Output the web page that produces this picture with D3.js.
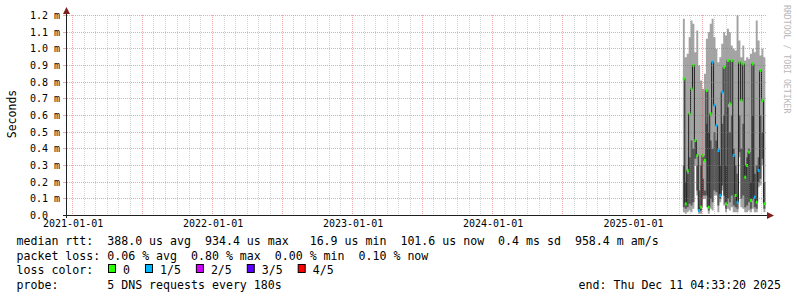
<!DOCTYPE html>
<html lang="en">
  <head>
    <meta charset="UTF-8" />
    <title>DNS latency - 5 years</title>
    <style>
      body { margin: 0; background: #fff; }
      svg text { font-family: "DejaVu Sans Mono", monospace; fill: #000; }
      .grid { stroke: rgba(143, 143, 143, 0.38); stroke-dasharray: 1, 1; }
      .mgrid { stroke: rgba(222, 79, 79, 0.5); stroke-dasharray: 1, 1; }
    </style>
  </head>
  <body>
    <div id="chart"></div>
    <script src="https://cdn.jsdelivr.net/npm/d3@7/dist/d3.min.js"></script>
    <script>
      // one column every 5 days, starting 2025-05-11 (values in ms)
      const firstDay = new Date(2025, 4, 11);
      const stepDays = 5;

      const pingMax = [1.18, 0.95, 0.97, 1.07, 1.17, 1.15, 0.98, 1.11, 0.9, 0.81, 0.76,
        0.85, 1.06, 1.1, 1.15, 1.18, 1.07, 1.0, 0.92, 0.95, 1.03, 1.1, 1.08, 1.12, 1.1,
        1.02, 1.0, 0.99, 1.2, 1.05, 0.95, 1.02, 0.93, 0.95, 0.94, 0.97, 1.0, 0.98, 1.17,
        1.05, 0.96, 1.0, 0.95];
      const pingHigh = [0.3, 0.2, 0.25, 0.35, 0.45, 0.4, 0.45, 0.3, 0.15, 0.3, 0.22,
        0.15, 0.55, 0.5, 0.45, 0.4, 0.5, 0.45, 0.4, 0.3, 0.55, 0.6, 0.3, 0.65, 0.5,
        0.6, 0.4, 0.3, 0.25, 0.6, 0.4, 0.55, 0.3, 0.35, 0.4, 0.2, 0.6, 0.25, 0.3,
        0.35, 0.6, 0.5, 0.2];
      const medianRtt = [0.82, 0.07, 0.27, 0.61, 0.76, 0.9, 0.45, 0.36, 0.03, 0.05, 0.36,
        0.33, 0.75, 0.05, 0.61, 0.92, 0.66, 0.54, 0.39, 0.12, 0.74, 0.89, 0.07, 0.93, 0.67,
        0.93, 0.36, 0.12, 0.08, 0.92, 0.69, 0.91, 0.23, 0.3, 0.38, 0.09, 0.91, 0.11, 0.08,
        0.27, 0.87, 0.69, 0.07];
      const pingLow = [0.05, 0.04, 0.05, 0.07, 0.06, 0.08, 0.34, 0.15, 0.02, 0.03, 0.12,
        0.12, 0.12, 0.03, 0.1, 0.08, 0.15, 0.14, 0.06, 0.1, 0.18, 0.12, 0.04, 0.1, 0.08,
        0.12, 0.06, 0.05, 0.04, 0.38, 0.1, 0.12, 0.05, 0.06, 0.08, 0.04, 0.1, 0.05, 0.04,
        0.2, 0.22, 0.34, 0.04];
      const pingMin = [0.02, 0.01, 0.02, 0.03, 0.02, 0.04, 0.3, 0.12, 0.01, 0.01, 0.1,
        0.1, 0.05, 0.01, 0.04, 0.03, 0.12, 0.12, 0.02, 0.08, 0.15, 0.06, 0.02, 0.04, 0.03,
        0.05, 0.02, 0.02, 0.02, 0.35, 0.05, 0.04, 0.02, 0.02, 0.03, 0.02, 0.04, 0.02, 0.02,
        0.17, 0.18, 0.3, 0.02];
      const lossLevel = [0, 0, 0, 0, 0, 0, 0, 0, 1, 0, 0, 0, 0, 0, 0, 1, 1, 1, 1, 1, 1, 0,
        0, 0, 0, 0, 1, 0, 1, 0, 0, 0, 0, 0, 0, 0, 0, 1, 0, 1, 0, 0, 0];

      const yTicks = [0, 0.1, 0.2, 0.3, 0.4, 0.5, 0.6, 0.7, 0.8, 0.9, 1.0, 1.1, 1.2];
      const lossLabels = ["0", "1/5", "2/5", "3/5", "4/5"];
      const lossColors = ["#26ff00", "#00b8ff", "#d400ff", "#5a00ff", "#ff0000"];
      const legendLines = [
        "median rtt:  388.0 us avg  934.4 us max   16.9 us min  101.6 us now  0.4 ms sd  958.4 m am/s",
        "packet loss: 0.06 % avg  0.80 % max  0.00 % min  0.10 % now",
        "loss color:",
        "probe:       5 DNS requests every 180s",
      ];
      const endLabel = "end: Thu Dec 11 04:33:20 2025";

      const width = 797,
        height = 297;

      const svg = d3
        .select("#chart")
        .append("svg")
        .attr("width", width)
        .attr("height", height);

      const x = d3
        .scaleTime()
        .domain([new Date(2020, 11, 16), new Date(2025, 11, 15)])
        .range([66.5, 766.5]);
      const y = d3.scaleLinear().domain([0, 1.2]).range([215.5, 15.5]);

      const cols = medianRtt.map(function (m, i) {
        return {
          t: d3.timeDay.offset(firstDay, i * stepDays),
          t1: d3.timeDay.offset(firstDay, (i + 1) * stepDays),
          min: pingMin[i],
          low: pingLow[i],
          med: m,
          high: pingHigh[i],
          max: pingMax[i],
          loss: lossLevel[i],
        };
      });
      // repeat last value at the end time so step areas close the last column
      const last = cols[cols.length - 1];
      const steps = cols.concat([Object.assign({}, last, { t: last.t1 })]);

      // smoke
      const outer = d3
        .area()
        .curve(d3.curveStepAfter)
        .x((d) => x(d.t))
        .y0((d) => y(d.min))
        .y1((d) => y(d.max));
      const inner = d3
        .area()
        .curve(d3.curveStepAfter)
        .x((d) => x(d.t))
        .y0((d) => y(d.low))
        .y1((d) => y(d.high));
      svg.append("path").attr("d", outer(steps)).attr("fill", "#a4a4a4");
      svg.append("path").attr("d", inner(steps)).attr("fill", "#585858");

      // median line
      const medLine = d3
        .line()
        .curve(d3.curveStepAfter)
        .x((d) => x(d.t))
        .y((d) => y(d.med));
      svg
        .append("path")
        .attr("d", medLine(steps))
        .attr("fill", "none")
        .attr("stroke", "#202020")
        .attr("stroke-width", 1);

      // median marks coloured by loss
      svg
        .selectAll(".med")
        .data(cols)
        .enter()
        .append("rect")
        .attr("x", (d) => x(d.t))
        .attr("width", (d) => x(d.t1) - x(d.t))
        .attr("y", (d) => y(d.med) - 1.5)
        .attr("height", 3)
        .attr("fill", (d) => lossColors[d.loss]);

      // grid (rrdtool paints it over the graph)
      const px = (v) => Math.floor(v) + 0.5;
      const months = d3.timeMonth.range(x.domain()[0], x.domain()[1]);
      svg
        .selectAll(".grid")
        .data(months.filter((d) => d.getMonth() % 6 !== 0))
        .enter()
        .append("line")
        .attr("class", "grid")
        .attr("x1", (d) => px(x(d)))
        .attr("x2", (d) => px(x(d)))
        .attr("y1", 15)
        .attr("y2", 215);
      svg
        .selectAll(".mgridv")
        .data(months.filter((d) => d.getMonth() % 6 === 0))
        .enter()
        .append("line")
        .attr("class", "mgrid")
        .attr("x1", (d) => px(x(d)))
        .attr("x2", (d) => px(x(d)))
        .attr("y1", 15)
        .attr("y2", 215);
      svg
        .selectAll(".mgridh")
        .data(yTicks.filter((d) => d > 0))
        .enter()
        .append("line")
        .attr("class", "mgrid")
        .attr("x1", 67)
        .attr("x2", 767)
        .attr("y1", (d) => px(y(d)))
        .attr("y2", (d) => px(y(d)));
      svg
        .selectAll(".ytick")
        .data(yTicks.filter((d) => d > 0))
        .enter()
        .append("line")
        .attr("x1", 63)
        .attr("x2", 66)
        .attr("y1", (d) => px(y(d)))
        .attr("y2", (d) => px(y(d)))
        .attr("stroke", "rgba(222,79,79,0.5)");

      // axes
      svg
        .append("line")
        .attr("x1", 63)
        .attr("x2", 768)
        .attr("y1", 215.5)
        .attr("y2", 215.5)
        .attr("stroke", "#1f1f1f");
      svg
        .append("line")
        .attr("x1", 66.5)
        .attr("x2", 66.5)
        .attr("y1", 218)
        .attr("y2", 12)
        .attr("stroke", "#1f1f1f");
      svg
        .append("path")
        .attr("d", "M767,212L774,215.5L767,219Z")
        .attr("fill", "#801f1f");
      svg
        .append("path")
        .attr("d", "M63,14L66.5,7L70,14Z")
        .attr("fill", "#801f1f");

      // y labels
      svg
        .selectAll(".ylab")
        .data(yTicks)
        .enter()
        .append("text")
        .attr("x", 30)
        .attr("y", (d) => y(d) + 3.6)
        .style("font-size", "10px")
        .text((d) => (d === 0 ? "0.0" : d.toFixed(1) + " m"));

      // x labels, one per year
      svg
        .selectAll(".xlab")
        .data(d3.timeYear.range(new Date(2021, 0, 1), new Date(2025, 11, 31)))
        .enter()
        .append("text")
        .attr("x", (d) => x(d) + 0.5)
        .attr("y", 227)
        .attr("text-anchor", "middle")
        .style("font-size", "10px")
        .text(d3.timeFormat("%Y-%m-%d"));

      svg
        .append("text")
        .attr("transform", "translate(15.5,114) rotate(-90)")
        .attr("text-anchor", "middle")
        .style("font-size", "11.5px")
        .text("Seconds");

      svg
        .append("text")
        .attr("transform", "translate(784,5) rotate(90)")
        .style("font-size", "8.2px")
        .style("fill", "#b8b8b8")
        .text("RRDTOOL / TOBI OETIKER");

      // legend
      const rowY = [245, 259.5, 274, 288.5];
      legendLines.forEach(function (s, i) {
        svg
          .append("text")
          .attr("x", 16.5)
          .attr("y", rowY[i])
          .attr("xml:space", "preserve")
          .style("white-space", "pre")
          .style("font-size", "11.6px")
          .text(s);
      });
      svg
        .append("text")
        .attr("x", 781)
        .attr("y", rowY[3])
        .attr("text-anchor", "end")
        .style("font-size", "11.6px")
        .text(endLabel);

      let cursor = 108.5;
      lossLabels.forEach(function (lab, i) {
        svg
          .append("rect")
          .attr("x", cursor)
          .attr("y", 264.5)
          .attr("width", 7)
          .attr("height", 8)
          .attr("fill", lossColors[i])
          .attr("stroke", "#000");
        svg
          .append("text")
          .attr("x", cursor + 14.5)
          .attr("y", rowY[2])
          .style("font-size", "11.6px")
          .text(lab);
        cursor = cursor + 14.5 + lab.length * 6.97 + 15.5;
      });
    </script>
  </body>
</html>
